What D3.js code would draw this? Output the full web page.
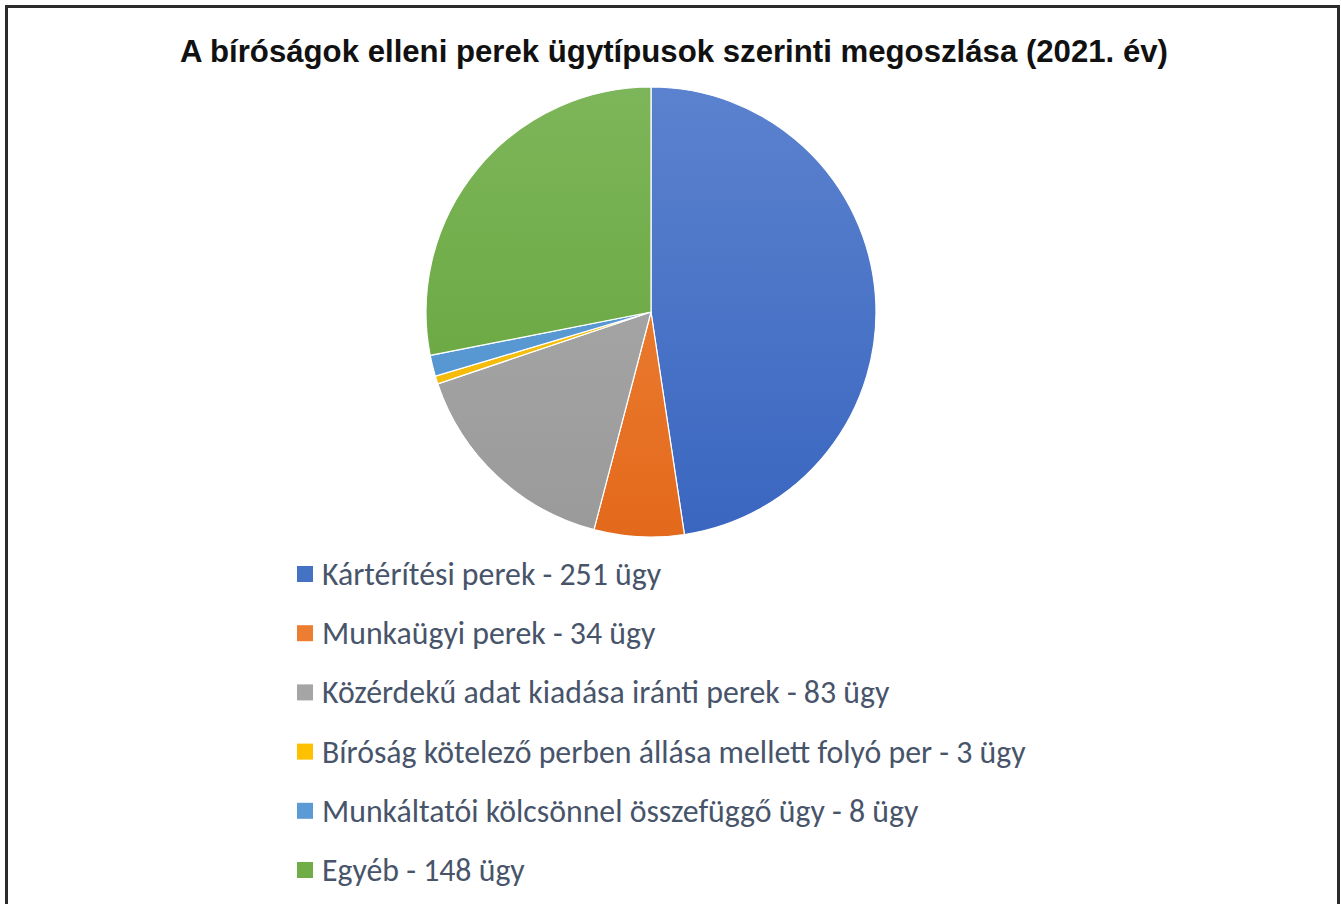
<!DOCTYPE html>
<html><head><meta charset="utf-8">
<script src="https://cdn.jsdelivr.net/npm/d3@7"></script>
<style>html,body{margin:0;padding:0;background:#fff;}svg{display:block;}</style>
</head><body>
<svg id="c" width="1341" height="904"></svg>
<script>
const title = "A bíróságok elleni perek ügytípusok szerinti megoszlása (2021. év)";
const categories = ["Kártérítési perek", "Munkaügyi perek", "Közérdekű adat kiadása iránti perek", "Bíróság kötelező perben állása mellett folyó per", "Munkáltatói kölcsönnel összefüggő ügy", "Egyéb"];
const values = [251, 34, 83, 3, 8, 148];
const unit = "ügy";
const colors = ["#4472C4", "#ED7D31", "#A5A5A5", "#FFC000", "#5B9BD5", "#70AD47"];
const lightColors = ["#5B82CE", "#F08A40", "#ADADAD", "#FFC81A", "#65A3DA", "#7DB65A"];
const darkColors = ["#3A66C0", "#E3691C", "#9A9A9A", "#F0B400", "#4F90CC", "#62A136"];

const svg = d3.select("#c");
const W = 1341, H = 904;
svg.append("rect").attr("x",0).attr("y",0).attr("width",W).attr("height",H).attr("fill","#fff");
svg.append("path").attr("d", `M6.5,${H+5} V6.5 H1338.5 V${H+5}`).attr("fill","none").attr("stroke","#2b2b2b").attr("stroke-width",3);

svg.append("text").attr("x",674).attr("y",62).attr("text-anchor","middle")
  .attr("font-family","'Liberation Sans', Arial, sans-serif").attr("font-weight","bold")
  .attr("font-size",31.5).attr("fill","#111")
  .attr("textLength",988).attr("lengthAdjust","spacingAndGlyphs").text(title);

const cx = 651, cy = 312, r = 225;
const defs = svg.append("defs");
colors.forEach((c,i)=>{
  const g = defs.append("linearGradient").attr("id","g"+i).attr("gradientUnits","userSpaceOnUse")
    .attr("x1",0).attr("y1",-r).attr("x2",0).attr("y2",r);
  g.append("stop").attr("offset","0%").attr("stop-color",lightColors[i]);
  g.append("stop").attr("offset","100%").attr("stop-color",darkColors[i]);
});

const pie = d3.pie().sort(null).value(d=>d)(values);
const arc = d3.arc().innerRadius(0).outerRadius(r);
svg.append("g").attr("transform",`translate(${cx},${cy})`)
  .selectAll("path").data(pie).join("path")
  .attr("d",arc)
  .attr("fill",(d,i)=>`url(#g${i})`)
  .attr("stroke","#fff").attr("stroke-width",1.2).attr("stroke-linejoin","round");

const leg = svg.append("g");
const rowY = d3.scalePoint().domain(d3.range(categories.length)).range([574, 870]);
categories.forEach((cat,i)=>{
  const y = rowY(i);
  leg.append("rect").attr("x",297).attr("y",y-8).attr("width",16).attr("height",16).attr("fill",colors[i]);
  leg.append("text").attr("x",322).attr("y",y+11)
    .attr("font-family","Carlito, Lato, 'Open Sans', sans-serif").attr("font-size",31.8)
    .attr("fill","#47546A").text(`${cat} - ${values[i]} ${unit}`);
});
</script>
</body></html>
